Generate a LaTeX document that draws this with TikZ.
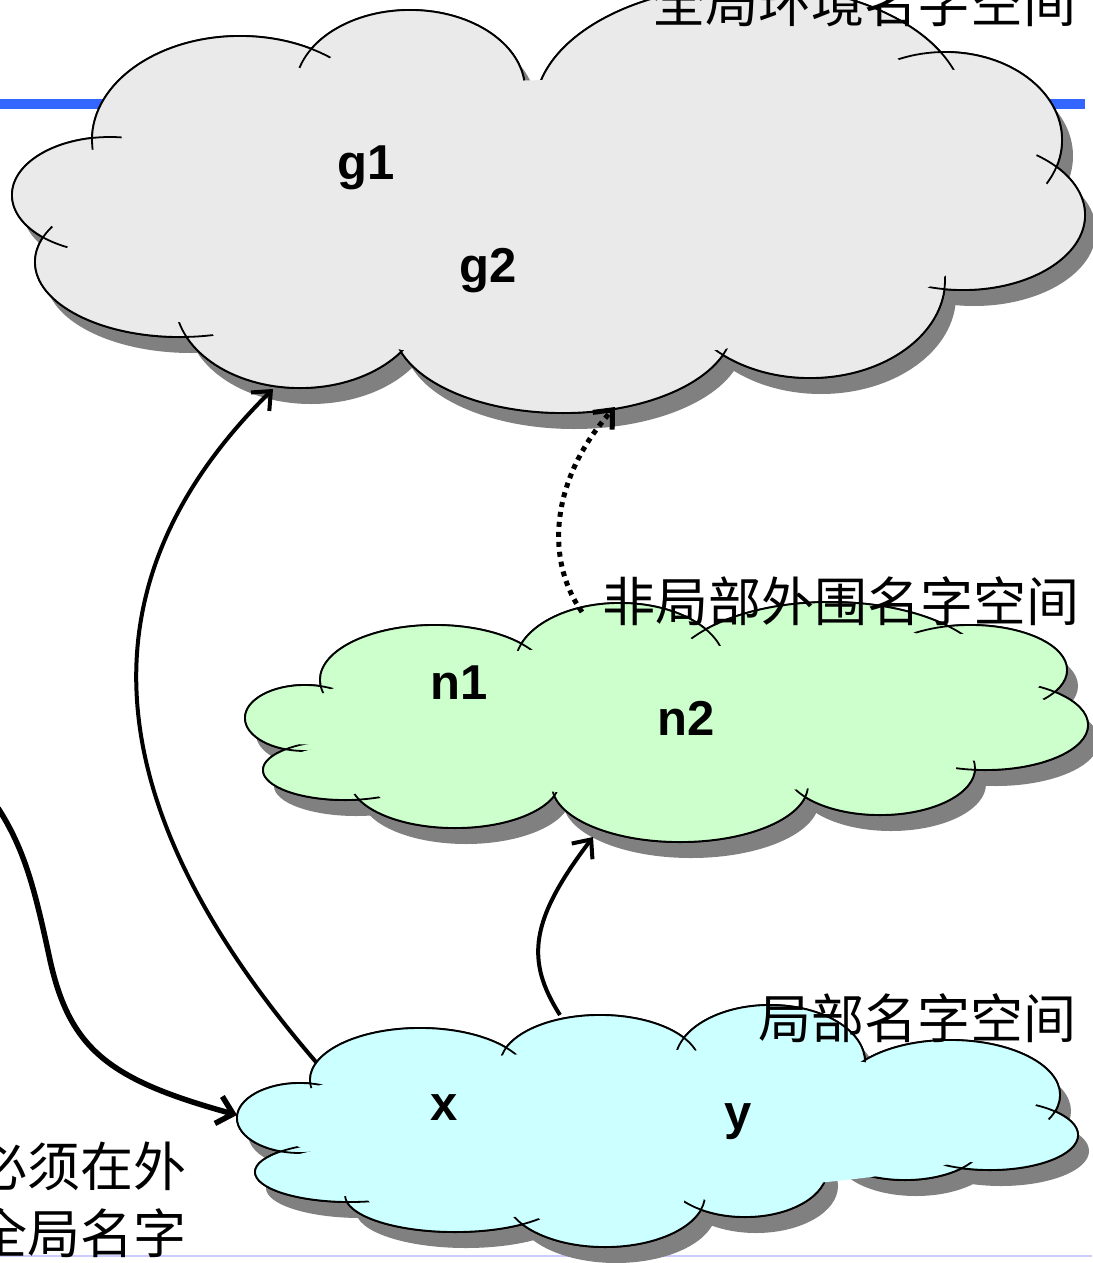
\documentclass[tikz,border=0pt]{standalone}
\usepackage{fontspec}
\setmainfont{Liberation Sans}
\newfontfamily\cjk{Noto Sans CJK SC}
\usetikzlibrary{arrows.meta}
\definecolor{grayfill}{HTML}{EAEAEA}
\definecolor{greenfill}{HTML}{CCFFCC}
\definecolor{cyanfill}{HTML}{CCFFFF}
\definecolor{shadowc}{HTML}{808080}
\definecolor{bluebar}{HTML}{3366FF}
\definecolor{lav}{HTML}{CCCCFF}
\newcommand\drawcloud[3]{%
  \foreach \cx/\cy/\rx/\ry in #1 {\fill[shadowc] (\cx+11,\cy+16) ellipse[x radius=\rx, y radius=\ry];}
  \foreach \cx/\cy/\rx/\ry in #1 {\filldraw[fill=#2, draw=black, line width=2pt] (\cx,\cy) ellipse[x radius=\rx, y radius=\ry];}
  \foreach \cx/\cy/\rx/\ry in #1 {\fill[#2] (\cx,\cy) ellipse[x radius=\rx, y radius=\ry];}
  \foreach \cx/\cy/\rx/\ry in #1 {\draw[line width=1.8pt] (\cx,\cy) ellipse[x radius=\rx, y radius=\ry];}
  \foreach \cx/\cy/\rx/\ry in #1 {\fill[#2] (\cx,\cy) ellipse[x radius=0.8*\rx, y radius=0.8*\ry];}
  \foreach \cx/\cy/\rx/\ry in #3 {\fill[#2] (\cx,\cy) ellipse[x radius=\rx, y radius=\ry];}
}
\def\grayLobes{240/140/148/104, 410/90/115/80, 750/110/215/125, 945/140/117/88, 963/215/122/75, 810/280/135/98, 563/325/170/88, 300/300/125/88, 180/262/145/75, 110/195/98/58}
\def\grayCore{560/220/420/140}
\def\greenLobes{305/718/60/33, 345/770/82/30, 435/680/115/55, 620/665/105/62, 830/682/165/80, 970/670/97/45, 985/725/103/45, 880/768/95/47, 680/785/128/57, 455/780/105/48}
\def\greenCore{660/720/360/75}
\def\cyanLobes{300/1118/63/35, 350/1172/95/30, 420/1080/110/52, 600/1065/100/50, 770/1062/95/57, 950/1095/110/55, 990/1135/88/35, 905/1140/80/40, 745/1170/82/47, 605/1195/100/52, 455/1195/110/37}
\def\cyanCore{650/1120/380/70}
\begin{document}
\begin{tikzpicture}[x=1pt,y=-1pt,
  cjktxt/.style={inner sep=0pt, font=\cjk\fontsize{53}{60}\selectfont},
  lbl/.style={inner sep=0pt, font=\fontsize{49}{50}\selectfont\bfseries},
  conn/.style={line width=4pt, -{Straight Barb[length=15pt,width=26pt]}},
  thickconn/.style={line width=5.5pt, -{Straight Barb[length=15pt,width=28pt]}},
  dotconn/.style={line width=5pt, dash pattern=on 5pt off 5pt, -{Straight Barb[length=15pt,width=26pt]}}]
\useasboundingbox (0,0) rectangle (1092,1263);
\fill[white] (0,0) rectangle (1092,1263);
% decorative slide lines
\draw[bluebar, line width=10pt] (0,104) -- (1085,104);
\draw[lav, line width=2pt] (0,1256) -- (1092,1256);
% clouds
\drawcloud{\grayLobes}{grayfill}{\grayCore}
\drawcloud{\greenLobes}{greenfill}{\greenCore}
\drawcloud{\cyanLobes}{cyanfill}{\cyanCore}
% titles
\node[cjktxt, anchor=base east] (tglobal) at (1077,23) {全局环境名字空间};
\node[cjktxt, anchor=base east] (tnonlocal) at (1080,621) {非局部外围名字空间};
\node[cjktxt, anchor=base east] (tlocal) at (1077,1038) {局部名字空间};
\node[cjktxt, anchor=base east] (tleft1) at (187,1186) {必须在外};
\node[cjktxt, anchor=base east] (tleft2) at (187,1253) {全局名字};
% labels
\node[lbl] (g1) at (366,168) {g1};
\node[lbl] (g2) at (488,271) {g2};
\node[lbl] (n1) at (459,683) {n1};
\node[lbl] (n2) at (686,718) {n2};
\node[lbl] (x) at (444,1108) {x};
\node[lbl] (y) at (738,1122) {y};
% connector end points
\coordinate (xTopL) at (316,1062);
\coordinate (gBotL) at (273,389);
\coordinate (xTopM) at (560,1015);
\coordinate (nBot) at (593,837);
\coordinate (nTop) at (582,612);
\coordinate (gBotR) at (615,407);
\coordinate (leftEnd) at (-2,808);
\coordinate (xLeft) at (237,1115);
% connectors
\draw[conn] (xTopL) .. controls (90,800) and (80,580) .. (gBotL);
\draw[conn] (xTopM) .. controls (525,960) and (530,920) .. (nBot);
\draw[dotconn] (nTop) .. controls (545,560) and (550,480) .. (gBotR);
\draw[thickconn] (leftEnd) .. controls (25,850) and (35,890) .. (50,960) .. controls (70,1050) and (110,1080) .. (xLeft);
\end{tikzpicture}
\end{document}
